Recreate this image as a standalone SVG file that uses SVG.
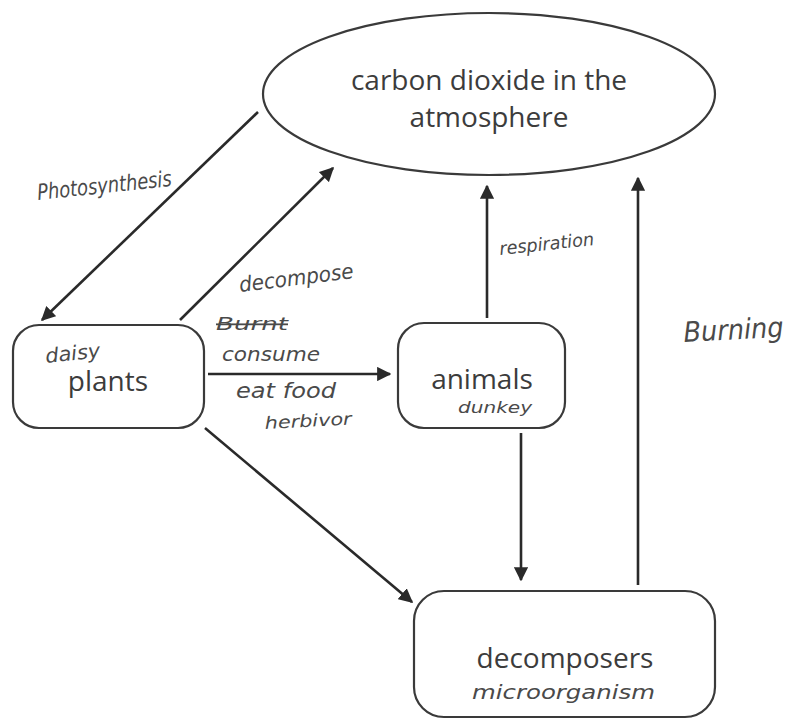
<svg xmlns="http://www.w3.org/2000/svg" width="797" height="720" viewBox="0 0 797 720">
<defs>
<marker id="ah" viewBox="0 0 10 10" refX="9" refY="5" markerWidth="5.5" markerHeight="5.5" orient="auto" markerUnits="strokeWidth">
<path d="M0,0 L10,5 L0,10 z" fill="#2a2a2a"/>
</marker>
<style>
.shape{fill:#fff;stroke:#3a3a3a;stroke-width:2.2}
.lbl{font-family:"Open Sans","Noto Sans",sans-serif;font-size:28px;fill:#3c3c3c;text-anchor:middle}
.hand{font-family:"DejaVu Sans",sans-serif;font-style:italic;fill:#4a4a4a;font-weight:normal}
.con{stroke:#2a2a2a;stroke-width:2.6;fill:none;marker-end:url(#ah)}
</style>
</defs>
<rect width="797" height="720" fill="#fff"/>
<g id="connectors">
<line class="con" x1="258" y1="112" x2="42" y2="320"/>
<line class="con" x1="180" y1="320" x2="333" y2="168"/>
<line class="con" x1="208" y1="374" x2="390" y2="374"/>
<line class="con" x1="205" y1="428" x2="412" y2="602"/>
<line class="con" x1="487" y1="318" x2="487" y2="186"/>
<line class="con" x1="521" y1="433" x2="521" y2="580"/>
<line class="con" x1="638" y1="585" x2="638" y2="178"/>
</g>
<g id="co2">
<ellipse class="shape" cx="489" cy="94" rx="226" ry="81"/>
<text class="lbl" x="489" y="90">carbon dioxide in the</text>
<text class="lbl" x="489" y="127">atmosphere</text>
</g>
<g id="plants">
<rect class="shape" x="13" y="325" width="191" height="103" rx="26"/>
<text class="lbl" x="108" y="391">plants</text>
<text class="hand" x="46" y="363" font-size="20" textLength="55" lengthAdjust="spacingAndGlyphs" transform="rotate(-6 46 363)">daisy</text>
</g>
<g id="animals">
<rect class="shape" x="398" y="323" width="167" height="105" rx="26"/>
<text class="lbl" x="482" y="389">animals</text>
<text class="hand" x="458" y="413" font-size="16" textLength="74" lengthAdjust="spacingAndGlyphs">dunkey</text>
</g>
<g id="decomposers">
<rect class="shape" x="414" y="591" width="301" height="126" rx="30"/>
<text class="lbl" x="565" y="668">decomposers</text>
<text class="hand" x="472" y="699" font-size="19" textLength="183" lengthAdjust="spacingAndGlyphs">microorganism</text>
</g>
<g id="labels">
<text class="hand" x="38" y="200" font-size="22" textLength="135" lengthAdjust="spacingAndGlyphs" transform="rotate(-6 38 200)">Photosynthesis</text>
<text class="hand" x="240" y="292" font-size="21" textLength="115" lengthAdjust="spacingAndGlyphs" transform="rotate(-7 240 292)">decompose</text>
<text class="hand" x="216" y="330" font-size="18" textLength="72" lengthAdjust="spacingAndGlyphs" text-decoration="line-through">Burnt</text>
<text class="hand" x="222" y="361" font-size="20" textLength="98" lengthAdjust="spacingAndGlyphs">consume</text>
<text class="hand" x="236" y="398" font-size="21" textLength="100" lengthAdjust="spacingAndGlyphs">eat food</text>
<text class="hand" x="265" y="429" font-size="17" textLength="87" lengthAdjust="spacingAndGlyphs" transform="rotate(-3 265 429)">herbivor</text>
<text class="hand" x="500" y="255" font-size="18" textLength="95" lengthAdjust="spacingAndGlyphs" transform="rotate(-6 500 255)">respiration</text>
<text class="hand" x="684" y="342" font-size="28" textLength="100" lengthAdjust="spacingAndGlyphs" transform="rotate(-3 684 342)">Burning</text>
</g>
</svg>
